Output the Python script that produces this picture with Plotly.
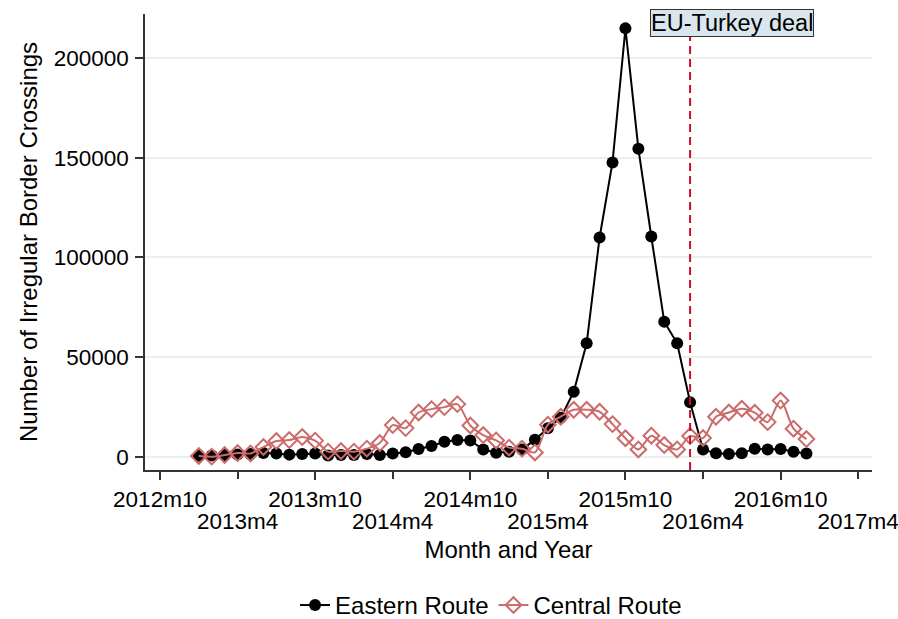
import plotly.graph_objects as go

# Months 2013m1 .. 2016m12
years = [2013, 2014, 2015, 2016]
months = [f"{y}m{m}" for y in years for m in range(1, 13)]
month_pos = [(y - 2013) * 12 + (m - 1) for y in years for m in range(1, 13)]

eastern = [600, 800, 1000, 1300, 1500, 2000, 1800, 1200, 1500, 1800, 800, 1000,
           1000, 1500, 1000, 1800, 2400, 4000, 5500, 7700, 8500, 8300, 3800, 2200,
           2600, 3800, 8700, 14400, 19700, 32700, 57000, 110000, 147600, 214800, 154500, 110500,
           67800, 57000, 27500, 3800, 1850, 1500, 1850, 4200, 3800, 4000, 2700, 1800]

central = [500, 200, 1000, 2000, 1800, 5000, 8000, 8500, 10000, 8200, 2700, 3000,
           2700, 4200, 7000, 16000, 14500, 22300, 24000, 25000, 26500, 15800, 11000, 8300,
           4700, 4200, 2300, 16200, 20200, 23700, 23700, 22700, 16500, 9400, 3800, 10700,
           6000, 3800, 10500, 9500, 20200, 22300, 24200, 22200, 17500, 28300, 14200, 9000]

# Tick labels (two staggered rows)
tick_row1_pos = [-3, 9, 21, 33, 45]
tick_row1_txt = ["2012m10", "2013m10", "2014m10", "2015m10", "2016m10"]
tick_row2_pos = [3, 15, 27, 39, 51]
tick_row2_txt = ["2013m4", "2014m4", "2015m4", "2016m4", "2017m4"]

y_ticks = [0, 50000, 100000, 150000, 200000]

deal_month = "2016m3"
deal_pos = month_pos[months.index(deal_month)]

FONT = "Liberation Sans, Arial, sans-serif"
FS = 22.5
FS_T = 24
RED = "#cb6b6b"
AXC = "#333333"
GRID = "#e8f0f0"

fig = go.Figure()
fig.add_trace(go.Scatter(
    x=month_pos, y=eastern, name="Eastern Route", mode="lines+markers",
    line=dict(color="black", width=2),
    marker=dict(symbol="circle", size=12, color="black"),
))
fig.add_trace(go.Scatter(
    x=month_pos, y=central, name="Central Route", mode="lines+markers",
    line=dict(color=RED, width=2, shape="spline", smoothing=0.8),
    marker=dict(symbol="diamond-open", size=12, color=RED, line=dict(width=2, color=RED)),
))

xr = [-4.16, 52.07]
yr = [-6500, 222000]

fig.add_shape(type="line", xref="x", yref="paper", x0=deal_pos, x1=deal_pos,
              y0=0, y1=(470 - 35) / 456,
              line=dict(color="#c8102e", width=2, dash="8px,5px"))

fig.add_annotation(x=deal_pos, xref="x", y=(470 - 23) / 456, yref="paper",
                   text="EU-Turkey deal", showarrow=False, xanchor="center", yanchor="middle",
                   xshift=42, font=dict(family=FONT, size=23.5, color="black"),
                   bgcolor="#dae6ee", bordercolor="#333333", borderwidth=1, borderpad=0)

fig.update_layout(
    width=898, height=619,
    margin=dict(l=145, r=26, t=14, b=149, autoexpand=False),
    paper_bgcolor="white", plot_bgcolor="white",
    font=dict(family=FONT, size=FS, color="black"),
    showlegend=True,
    legend=dict(orientation="h", x=0.476, xanchor="center", y=-0.297, yanchor="middle",
                font=dict(family=FONT, size=24), bgcolor="rgba(0,0,0,0)",
                itemwidth=30, tracegroupgap=0),
    xaxis=dict(range=xr, tickmode="array", tickvals=tick_row1_pos, ticktext=tick_row1_txt,
               ticks="outside", ticklen=8, tickwidth=1.5, tickcolor=AXC,
               showline=True, linecolor=AXC, linewidth=1.5, showgrid=False, zeroline=False,
               tickfont=dict(family=FONT, size=FS), ticklabelstandoff=0,
               ticklabeloverflow="allow",
               title=dict(text="Month and Year", standoff=30, font=dict(family=FONT, size=FS_T))),
    xaxis2=dict(range=xr, overlaying="x", anchor="y", side="bottom", tickmode="array",
                tickvals=tick_row2_pos, ticktext=tick_row2_txt,
                ticks="outside", ticklen=8, tickwidth=1.5, tickcolor=AXC,
                showline=False, showgrid=False, zeroline=False,
                tickfont=dict(family=FONT, size=FS), ticklabelstandoff=23,
                ticklabeloverflow="allow"),
    yaxis=dict(range=yr, tickmode="array", tickvals=y_ticks, tickformat="d",
               ticks="outside", ticklen=8, tickwidth=1.5, tickcolor=AXC,
               showline=True, linecolor=AXC, linewidth=1.5,
               showgrid=True, gridcolor=GRID, gridwidth=1.5, zeroline=False,
               tickfont=dict(family=FONT, size=FS), ticklabelstandoff=2,
               title=dict(text="Number of Irregular Border Crossings", standoff=9,
                          font=dict(family=FONT, size=FS_T))),
)

# invisible trace to activate xaxis2
fig.add_trace(go.Scatter(x=[xr[0]], y=[None], xaxis="x2", showlegend=False,
                         hoverinfo="skip", mode="markers", marker=dict(opacity=0)))

fig.write_html("out.html", config={"displayModeBar": False},
               post_script="document.body.style.margin='0';document.body.style.padding='0';"
                           "document.body.style.overflow='hidden';")
